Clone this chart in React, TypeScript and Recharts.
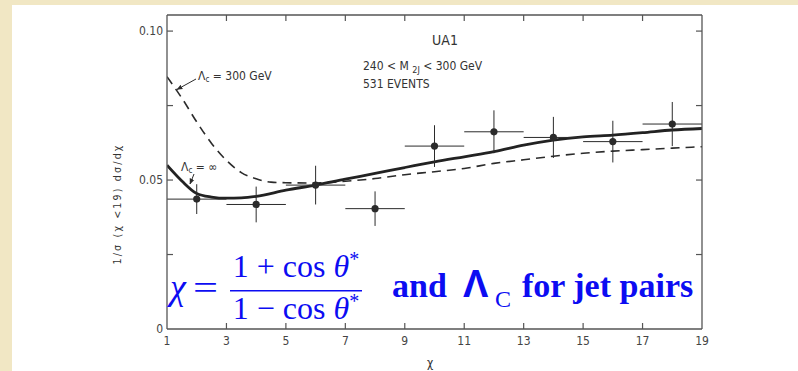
import React from "react";
import { ComposedChart, XAxis, YAxis, Line, Scatter, ErrorBar } from "recharts";

// Measured dijet angular distribution, 240 < M_2J < 300 GeV
const chiBins = [2, 4, 6, 8, 10, 12, 14, 16, 18];
const binHalfWidth = [1, 1, 1, 1, 1, 1, 1, 1, 1];
const measured = [0.0436, 0.0418, 0.0483, 0.0404, 0.0614, 0.0662, 0.0643, 0.0629, 0.0688];
const measuredErr = [0.005, 0.006, 0.0065, 0.0058, 0.007, 0.0072, 0.0069, 0.007, 0.0074];

// QCD prediction, Λc = ∞ (solid)
const qcdChi = [1, 1.5, 2, 2.5, 3, 3.5, 4, 5, 6, 7, 8, 9, 10, 11, 12, 13, 14, 15, 16, 17, 18, 19];
const qcdCurve = [
  0.055, 0.0497, 0.0455, 0.0443, 0.0439, 0.044, 0.0445, 0.0466, 0.0483, 0.0503, 0.0522,
  0.0542, 0.0561, 0.0578, 0.0595, 0.0617, 0.0634, 0.0645, 0.0651, 0.0659, 0.0668, 0.0673,
];

// Contact interaction, Λc = 300 GeV (dashed)
const contactChi = [1, 1.33, 1.5, 2, 2.5, 3, 3.5, 4, 4.5, 5, 6, 7, 8, 9, 10, 11, 12, 13, 14, 15, 16, 17, 18, 19];
const contactCurve = [
  0.0847, 0.08, 0.0775, 0.0695, 0.0623, 0.0566, 0.0525, 0.0504, 0.0493, 0.0491, 0.049,
  0.0496, 0.0505, 0.0518, 0.0528, 0.0539, 0.0556, 0.0568, 0.058, 0.059, 0.0597, 0.0602,
  0.0607, 0.0612,
];

const xTicks = [1, 3, 5, 7, 9, 11, 13, 15, 17, 19];
const topTicks = [3, 5, 7, 9, 11, 13, 15, 17];
const yTicks = [0, 0.025, 0.05, 0.075, 0.1];
const rightTicks = [0.025, 0.05, 0.075, 0.1];
const yTickLabels: Record<string, string> = { "0": "0", "0.05": "0.05", "0.1": "0.10" };

const X_MIN = 1;
const X_MAX = 19;
const Y_MAX = 0.1054;

const points = chiBins.map((x, i) => ({ x, y: measured[i], ex: binHalfWidth[i], ey: measuredErr[i] }));
const qcdData = qcdChi.map((x, i) => ({ x, y: qcdCurve[i] }));
const contactData = contactChi.map((x, i) => ({ x, y: contactCurve[i] }));

const FONT = "'Liberation Sans Narrow', 'DejaVu Sans Condensed', Roboto, sans-serif";
const INK = "#2b2b2b";
const AXIS = "#555";
const BLUE = "#0c0cf2";
const SERIF = "'Liberation Serif', 'DejaVu Serif', serif";

const BottomTick = (props: any) => {
  const { x, y, payload } = props;
  const v = payload.value;
  return (
    <g>
      {v > X_MIN && v < X_MAX && (
        <line x1={x} x2={x} y1={y} y2={y - 6} stroke={AXIS} strokeWidth={1.2} />
      )}
      <text x={x} y={y + 16} textAnchor="middle" fontSize={12} fill="#444" fontFamily={FONT}>
        {v}
      </text>
    </g>
  );
};

const TopTick = (props: any) => {
  const { x, y } = props;
  return <line x1={x} x2={x} y1={y} y2={y + 6} stroke={AXIS} strokeWidth={1.2} />;
};

const LeftTick = (props: any) => {
  const { x, y, payload } = props;
  const label = yTickLabels[String(payload.value)];
  return (
    <g>
      {payload.value > 0 && <line x1={x} x2={x + 6} y1={y} y2={y} stroke={AXIS} strokeWidth={1.2} />}
      {label && (
        <text x={x - 4} y={y + 4} textAnchor="end" fontSize={12} fill="#444" fontFamily={FONT}>
          {label}
        </text>
      )}
    </g>
  );
};

const RightTick = (props: any) => {
  const { x, y } = props;
  return <line x1={x} x2={x - 6} y1={y} y2={y} stroke={AXIS} strokeWidth={1.2} />;
};

const Dot = (props: any) => <circle cx={props.cx} cy={props.cy} r={3.6} fill={INK} />;

function Annotations() {
  return (
    <svg width={798} height={371} style={{ position: "absolute", left: 0, top: 0, pointerEvents: "none" }}>
      <defs>
        <marker id="head" viewBox="0 0 10 10" refX="9" refY="5" markerWidth="6" markerHeight="6" orient="auto">
          <path d="M0,1 L10,5 L0,9 z" fill={INK} />
        </marker>
      </defs>
      <g fontFamily={FONT} fill="#333">
        <text x={445} y={45} fontSize={14} textAnchor="middle">UA1</text>
        <text x={363} y={70} fontSize={12}>
          240 &lt; M <tspan fontSize={9} dy={3}>2J</tspan>
          <tspan dy={-3}> &lt; 300  GeV</tspan>
        </text>
        <text x={363} y={88} fontSize={12}>531  EVENTS</text>
        <text x={198} y={80} fontSize={12}>
          Λ<tspan fontSize={8} dy={2}>c</tspan>
          <tspan dy={-2}> = 300 GeV</tspan>
        </text>
        <text x={181} y={171} fontSize={12}>
          Λ<tspan fontSize={8} dy={2}>c</tspan>
          <tspan dy={-2}> = ∞</tspan>
        </text>
        <text
          x={121}
          y={204}
          fontSize={10.5}
          textAnchor="middle"
          letterSpacing={2.2}
          transform="rotate(-90 121 204)"
        >
          1/σ  (χ  &lt;19)  dσ/dχ
        </text>
        <text x={430} y={367} fontSize={12} textAnchor="middle">χ</text>
      </g>
      <line x1={196} y1={79} x2={177} y2={89.5} stroke={INK} strokeWidth={1} markerEnd="url(#head)" />
      <line x1={194} y1={174} x2={190} y2={184} stroke={INK} strokeWidth={1} markerEnd="url(#head)" />

      <g fill={BLUE} fontFamily={SERIF}>
        <text x={170} y={299} fontSize={36} fontStyle="italic">χ</text>
        <text x={193} y={299} fontSize={34} textLength={25} lengthAdjust="spacingAndGlyphs">=</text>
        <text x={296} y={277} fontSize={32} textAnchor="middle">
          1 + cos <tspan fontStyle="italic">θ</tspan>
          <tspan fontSize={20} dy={-11}>*</tspan>
        </text>
        <line x1={230} x2={362} y1={290.7} y2={290.7} stroke={BLUE} strokeWidth={1.6} />
        <text x={296} y={319} fontSize={32} textAnchor="middle">
          1 − cos <tspan fontStyle="italic">θ</tspan>
          <tspan fontSize={20} dy={-11}>*</tspan>
        </text>
        <text x={392} y={297} fontSize={34} fontWeight="bold">and</text>
        <text x={463} y={297} fontSize={38} fontWeight="bold" fontFamily="'Liberation Sans', sans-serif">Λ</text>
        <text x={495} y={307} fontSize={24}>C</text>
        <text x={522} y={297} fontSize={34} fontWeight="bold">for jet pairs</text>
      </g>
    </svg>
  );
}

export default function App() {
  return (
    <div style={{ position: "absolute", left: 0, top: 0, width: 798, height: 371, background: "#f1e7c4" }}>
      <div style={{ position: "absolute", left: 12, top: 5, right: 0, bottom: 0, background: "#ffffff" }} />
      <div style={{ position: "absolute", left: 0, top: 0 }}>
        <ComposedChart width={798} height={371} margin={{ top: 14, right: 95, bottom: 41, left: 166 }}>
          <XAxis
            xAxisId="bottom"
            dataKey="x"
            type="number"
            domain={[X_MIN, X_MAX]}
            ticks={xTicks}
            interval={0}
            height={1}
            tickSize={0}
            tickMargin={0}
            tickLine={false}
            axisLine={{ stroke: AXIS, strokeWidth: 1.3 }}
            tick={<BottomTick />}
            allowDataOverflow
          />
          <XAxis
            xAxisId="top"
            orientation="top"
            dataKey="x"
            type="number"
            domain={[X_MIN, X_MAX]}
            ticks={topTicks}
            interval={0}
            height={1}
            tickSize={0}
            tickMargin={0}
            tickLine={false}
            axisLine={{ stroke: AXIS, strokeWidth: 1.3 }}
            tick={<TopTick />}
            allowDataOverflow
          />
          <YAxis
            yAxisId="left"
            type="number"
            domain={[0, Y_MAX]}
            ticks={yTicks}
            interval={0}
            width={1}
            tickSize={0}
            tickMargin={0}
            tickLine={false}
            axisLine={{ stroke: AXIS, strokeWidth: 1.3 }}
            tick={<LeftTick />}
            allowDataOverflow
          />
          <YAxis
            yAxisId="right"
            orientation="right"
            type="number"
            domain={[0, Y_MAX]}
            ticks={rightTicks}
            interval={0}
            width={1}
            tickSize={0}
            tickMargin={0}
            tickLine={false}
            axisLine={{ stroke: AXIS, strokeWidth: 1.3 }}
            tick={<RightTick />}
            allowDataOverflow
          />
          <Line
            xAxisId="bottom"
            yAxisId="left"
            data={contactData}
            dataKey="y"
            type="monotone"
            stroke={INK}
            strokeWidth={1.6}
            strokeDasharray="9 6"
            dot={false}
            isAnimationActive={false}
          />
          <Line
            xAxisId="bottom"
            yAxisId="left"
            data={qcdData}
            dataKey="y"
            type="monotone"
            stroke="#222"
            strokeWidth={2.8}
            dot={false}
            isAnimationActive={false}
          />
          <Scatter
            xAxisId="bottom"
            yAxisId="left"
            data={points}
            dataKey="y"
            shape={<Dot />}
            isAnimationActive={false}
          >
            <ErrorBar dataKey="ey" direction="y" width={0} stroke={INK} strokeWidth={1} />
            <ErrorBar dataKey="ex" direction="x" width={0} stroke={INK} strokeWidth={1} />
          </Scatter>
        </ComposedChart>
      </div>
      <Annotations />
    </div>
  );
}
